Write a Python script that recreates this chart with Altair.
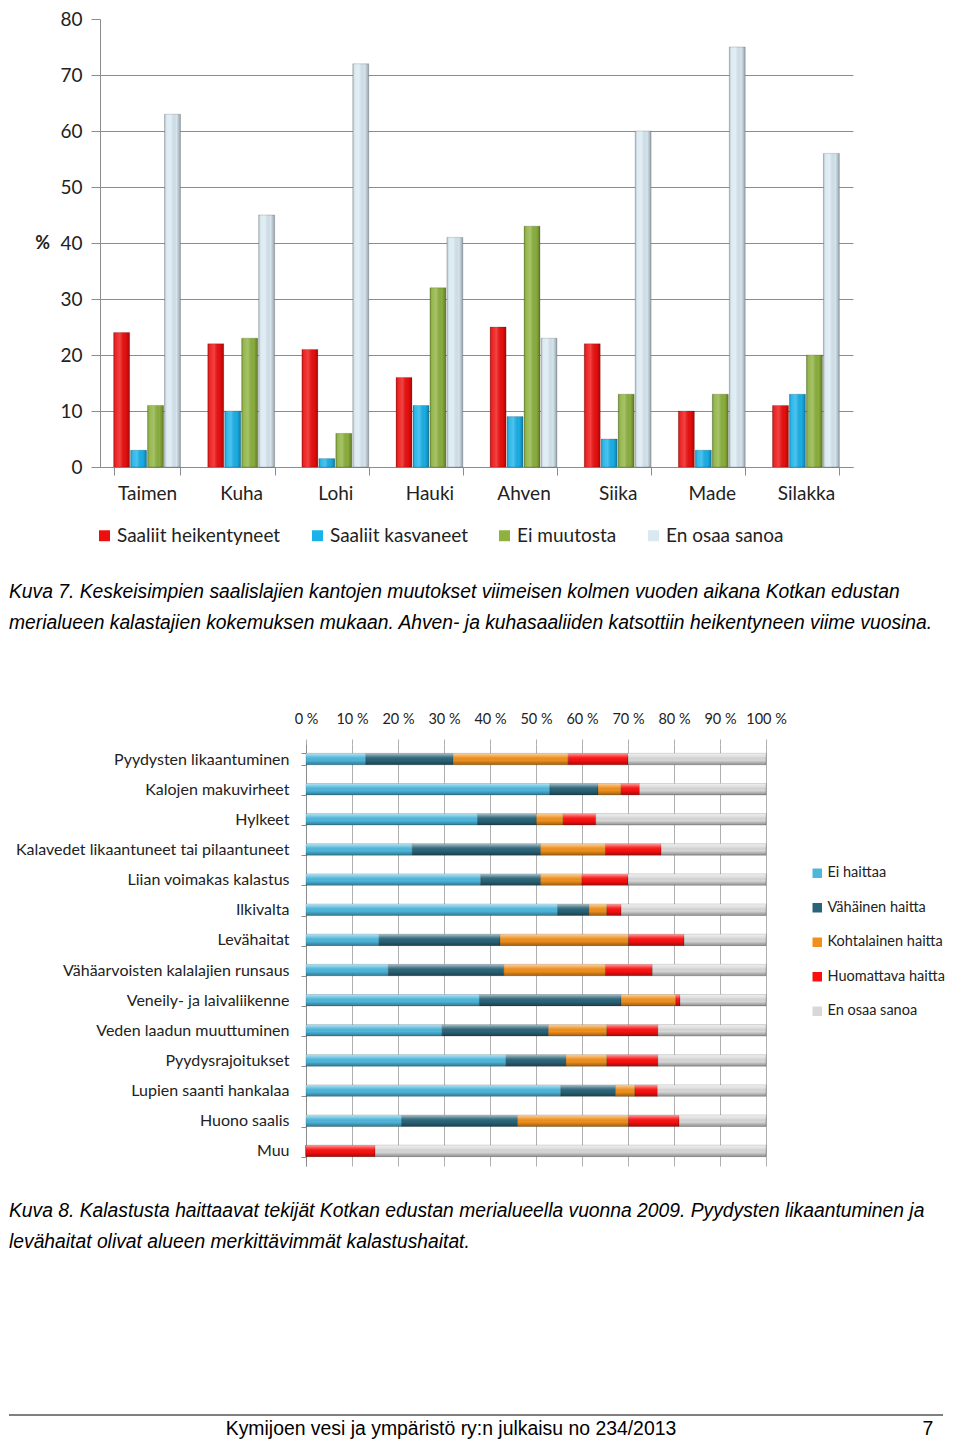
import altair as alt
import pandas as pd

# ---------- Chart 1 data (Kuva 7) ----------
species = ["Taimen", "Kuha", "Lohi", "Hauki", "Ahven", "Siika", "Made", "Silakka"]
saaliit_heikentyneet = [24, 22, 21, 16, 25, 22, 10, 11]
saaliit_kasvaneet = [3, 10, 1.5, 11, 9, 5, 3, 13]
ei_muutosta = [11, 23, 6, 32, 43, 13, 13, 20]
en_osaa_sanoa_1 = [63, 45, 72, 41, 23, 60, 75, 56]
series1 = ["Saaliit heikentyneet", "Saaliit kasvaneet", "Ei muutosta", "En osaa sanoa"]
colors1 = ["#ee0e0e", "#19b2ea", "#8db23e", "#d9e9f2"]
y_ticks1 = [0, 10, 20, 30, 40, 50, 60, 70, 80]

# ---------- Chart 2 data (Kuva 8) ----------
haitat = [
    "Pyydysten likaantuminen", "Kalojen makuvirheet", "Hylkeet",
    "Kalavedet likaantuneet tai pilaantuneet", "Liian voimakas kalastus", "Ilkivalta",
    "Levähaitat", "Vähäarvoisten kalalajien runsaus", "Veneily- ja laivaliikenne",
    "Veden laadun muuttuminen", "Pyydysrajoitukset", "Lupien saanti hankalaa",
    "Huono saalis", "Muu",
]
ei_haittaa = [13, 53, 37.3, 23.1, 38, 54.7, 15.9, 17.9, 37.7, 29.6, 43.5, 55.4, 20.8, 0]
vahainen_haitta = [19, 10.5, 12.8, 27.9, 13, 6.8, 26.3, 25.1, 30.8, 23.1, 13, 11.9, 25.2, 0]
kohtalainen_haitta = [25, 5, 5.8, 14.1, 9, 3.9, 27.9, 22.1, 11.9, 12.7, 8.9, 4.2, 24.1, 0]
huomattava_haitta = [13, 4, 7.1, 12.1, 10, 3.1, 12.1, 10.2, 0.9, 11.1, 11.1, 4.9, 11, 15]
en_osaa_sanoa_2 = [30, 27.5, 37, 22.8, 30, 31.5, 17.8, 24.7, 18.7, 23.5, 23.5, 23.6, 18.9, 85]
series2 = ["Ei haittaa", "Vähäinen haitta", "Kohtalainen haitta", "Huomattava haitta", "En osaa sanoa"]
colors2 = ["#4db7dc", "#2a6478", "#f0901c", "#fb1010", "#d8d8d8"]
x_ticks2 = [0, 10, 20, 30, 40, 50, 60, 70, 80, 90, 100]

# ---------- Page texts ----------
caption1 = [
    "Kuva 7.  Keskeisimpien saalislajien kantojen muutokset viimeisen kolmen vuoden aikana Kotkan edustan",
    "merialueen kalastajien kokemuksen mukaan. Ahven- ja kuhasaaliiden katsottiin heikentyneen viime vuosina.",
]
caption2 = [
    "Kuva 8. Kalastusta haittaavat tekijät Kotkan edustan merialueella vuonna 2009. Pyydysten likaantuminen ja",
    "levähaitat olivat alueen merkittävimmät kalastushaitat.",
]
footer_text = "Kymijoen vesi ja ympäristö ry:n julkaisu no 234/2013"
page_number = "7"

FONT = "Lato"
CAPFONT = "Liberation Sans"
CAPSIZE = 19.3

# ---------- build tables ----------
rows1 = []
for i, sp in enumerate(species):
    for j, (name, vals) in enumerate(zip(series1, [saaliit_heikentyneet, saaliit_kasvaneet, ei_muutosta, en_osaa_sanoa_1])):
        rows1.append({"laji": sp, "sarja": name, "arvo": vals[i], "jarj": j})
df1 = pd.DataFrame(rows1)

rows2 = []
for i, h in enumerate(haitat):
    for j, (name, vals) in enumerate(zip(series2, [ei_haittaa, vahainen_haitta, kohtalainen_haitta, huomattava_haitta, en_osaa_sanoa_2])):
        rows2.append({"haitta": h, "luokka": name, "osuus": vals[i], "jarj": j})
df2 = pd.DataFrame(rows2)

grad_h = {
    "gradient": "linear", "x1": 0, "y1": 0, "x2": 1, "y2": 0,
    "stops": [
        {"offset": 0, "color": "rgba(0,0,0,0.22)"},
        {"offset": 0.15, "color": "rgba(255,255,255,0.10)"},
        {"offset": 0.4, "color": "rgba(255,255,255,0.22)"},
        {"offset": 0.75, "color": "rgba(0,0,0,0.02)"},
        {"offset": 1, "color": "rgba(0,0,0,0.30)"},
    ],
}
grad_v = {
    "gradient": "linear", "x1": 0, "y1": 0, "x2": 0, "y2": 1,
    "stops": [
        {"offset": 0, "color": "rgba(255,255,255,0.6)"},
        {"offset": 0.3, "color": "rgba(255,255,255,0.15)"},
        {"offset": 0.6, "color": "rgba(0,0,0,0.0)"},
        {"offset": 1, "color": "rgba(0,0,0,0.35)"},
    ],
}

AX = "#8c8c8c"
LEFT1 = -91    # page left edge, relative to chart 1 plot origin
LEFT2 = -297   # same edge, relative to chart 2 plot origin

# ---------- Chart 1 ----------
base1 = alt.Chart(df1).encode(
    x=alt.X(
        "laji:N", sort=species,
        scale=alt.Scale(paddingInner=0.29, paddingOuter=0.145),
        axis=alt.Axis(
            title=None, labelAngle=0, labelFont=FONT, labelFontSize=19, labelColor="#222",
            labelPadding=9, domainColor=AX, tickColor=AX, tickSize=8, tickBand="extent", grid=False,
        ),
    ),
    xOffset=alt.XOffset("sarja:N", sort=series1, scale=alt.Scale(paddingInner=0.06)),
    y=alt.Y(
        "arvo:Q",
        scale=alt.Scale(domain=[0, 80], nice=False),
        axis=alt.Axis(
            values=y_ticks1, title="%", titleAngle=0, titleX=-58, titleY=224,
            titleAlign="center", titleBaseline="middle",
            titleFont=FONT, titleFontSize=18, titleFontWeight="bold", titleColor="#222",
            labelFont=FONT, labelFontSize=19, labelColor="#222", labelPadding=9,
            tickSize=9, tickColor=AX, domainColor=AX, gridColor=AX,
            gridOpacity={"condition": {"test": "datum.value >= 80", "value": 0}, "value": 1},
        ),
    ),
)
bars1 = base1.mark_bar(stroke="rgba(0,0,0,0.25)", strokeWidth=0.7).encode(
    color=alt.Color(
        "sarja:N", sort=series1,
        scale=alt.Scale(domain=series1, range=colors1),
        legend=alt.Legend(
            title=None, orient="none", direction="horizontal", legendX=-5, legendY=507,
            labelFont=FONT, labelFontSize=19, labelColor="#222", symbolType="square",
            symbolSize=120, symbolStrokeWidth=0, columnPadding=27, labelOffset=3, labelLimit=0,
        ),
    )
)
shade1 = base1.mark_bar(fill=grad_h)

cap1_layers = []
for k, line in enumerate(caption1):
    cap1_layers.append(
        alt.Chart(pd.DataFrame({"t": [line]})).mark_text(
            align="left", baseline="middle", font=CAPFONT, fontStyle="italic", fontSize=CAPSIZE, color="#000"
        ).encode(text="t:N", x=alt.value(LEFT1), y=alt.value(573 + 31 * k))
    )

chart1 = alt.layer(bars1, shade1, *cap1_layers).properties(width=753, height=448)

# ---------- Chart 2 ----------
base2 = alt.Chart(df2).encode(
    y=alt.Y(
        "haitta:N", sort=haitat,
        scale=alt.Scale(paddingInner=0.62, paddingOuter=0.31),
        axis=alt.Axis(
            title=None, labelFont=FONT, labelFontSize=16, labelColor="#222", labelPadding=12,
            tickSize=5, tickBand="extent", domainColor=AX, tickColor=AX, labelLimit=0,
        ),
    ),
    x=alt.X(
        "osuus:Q", stack="zero",
        scale=alt.Scale(domain=[0, 100], nice=False),
        axis=alt.Axis(
            orient="top", values=x_ticks2, labelExpr="datum.value + ' %'", title=None,
            labelFont=FONT, labelFontSize=14.5, labelColor="#222", labelPadding=13,
            tickSize=5, tickColor="#b0b0b0", domain=False, gridColor="#b0b0b0",
            labelOverlap=False, labelFlush=False,
        ),
    ),
    order=alt.Order("jarj:Q"),
)
bars2 = base2.mark_bar(stroke="rgba(0,0,0,0.3)", strokeWidth=0.6).encode(
    color=alt.Color(
        "luokka:N", sort=series2,
        scale=alt.Scale(domain=series2, range=colors2),
        legend=alt.Legend(
            title=None, orient="none", legendX=710, legendY=122, padding=0,
            labelFont=FONT, labelFontSize=14.5, labelColor="#222", symbolType="square",
            symbolSize=90, symbolStrokeWidth=0, rowPadding=19.5, labelOffset=3, labelLimit=0,
        ),
    ),
    detail="luokka:N",
)
shade2 = base2.mark_bar(fill=grad_v).encode(detail="luokka:N")

cap2_layers = []
for k, line in enumerate(caption2):
    cap2_layers.append(
        alt.Chart(pd.DataFrame({"t": [line]})).mark_text(
            align="left", baseline="middle", font=CAPFONT, fontStyle="italic", fontSize=CAPSIZE, color="#000"
        ).encode(text="t:N", x=alt.value(LEFT2), y=alt.value(467 + 31 * k))
    )

footer_rule = alt.Chart(pd.DataFrame({"a": [0]})).mark_rule(color="#000", strokeWidth=1).encode(
    x=alt.value(LEFT2), x2=alt.value(637), y=alt.value(671)
)
footer = alt.Chart(pd.DataFrame({"t": [footer_text]})).mark_text(
    align="center", baseline="middle", font=CAPFONT, fontSize=19.4, color="#000"
).encode(text="t:N", x=alt.value(145), y=alt.value(685))
pagenum = alt.Chart(pd.DataFrame({"t": [page_number]})).mark_text(
    align="center", baseline="middle", font=CAPFONT, fontSize=19.4, color="#000"
).encode(text="t:N", x=alt.value(622), y=alt.value(685))

chart2 = alt.layer(bars2, shade2, *cap2_layers, footer_rule, footer, pagenum).properties(width=460, height=422)

spacer = alt.Chart(pd.DataFrame({"a": [0]})).mark_point(opacity=0).encode(
    x=alt.value(0), y=alt.value(0)
).properties(width=206, height=422)

row2 = alt.hconcat(spacer, chart2, spacing=0, bounds="flush")

chart = alt.vconcat(chart1, row2, spacing=277, bounds="flush").resolve_scale(
    color="independent"
).properties(
    padding={"left": 0, "top": 2, "right": 0, "bottom": 0}, background="white"
).configure_view(stroke=None)

chart.save("out.html", embed_options={"renderer": "svg", "actions": False})
